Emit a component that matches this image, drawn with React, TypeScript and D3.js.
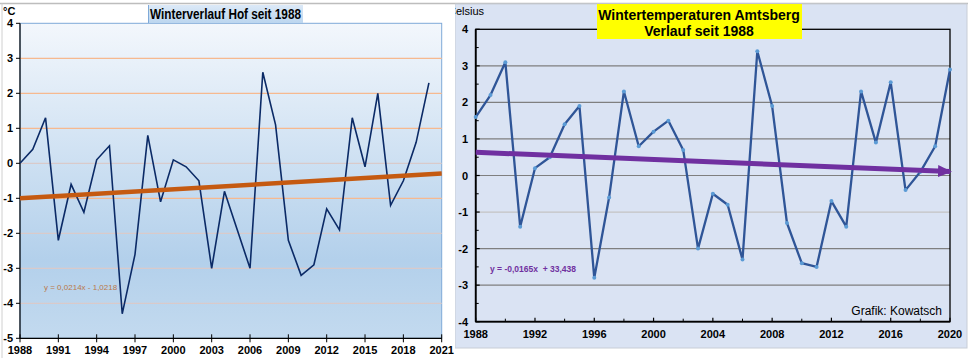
import React from 'react';
import * as d3 from 'd3';

// Winter (DJF) means, 1988 - 2020
const years = [1988, 1989, 1990, 1991, 1992, 1993, 1994, 1995, 1996, 1997, 1998, 1999, 2000, 2001, 2002, 2003, 2004,
  2005, 2006, 2007, 2008, 2009, 2010, 2011, 2012, 2013, 2014, 2015, 2016, 2017, 2018, 2019, 2020];
const hofTemps = [0, 0.4, 1.3, -2.2, -0.6, -1.4, 0.1, 0.5, -4.3, -2.6, 0.8, -1.1, 0.1, -0.1, -0.5, -3.0, -0.8,
  -1.9, -3.0, 2.6, 1.1, -2.2, -3.2, -2.9, -1.3, -1.9, 1.3, -0.1, 2.0, -1.2, -0.5, 0.6, 2.3];
const amtsTemps = [1.6, 2.2, 3.1, -1.4, 0.2, 0.5, 1.4, 1.9, -2.8, -0.6, 2.3, 0.8, 1.2, 1.5, 0.7, -2.0, -0.5,
  -0.8, -2.3, 3.4, 1.9, -1.3, -2.4, -2.5, -0.7, -1.4, 2.3, 0.9, 2.55, -0.4, 0.1, 0.8, 2.9];

const hofXTicks = [1988, 1991, 1994, 1997, 2000, 2003, 2006, 2009, 2012, 2015, 2018, 2021];
const hofYTicks = [4, 3, 2, 1, 0, -1, -2, -3, -4, -5];
const amtsXTicks = [1988, 1992, 1996, 2000, 2004, 2008, 2012, 2016, 2020];
const amtsYTicks = [4, 3, 2, 1, 0, -1, -2, -3, -4];

// trend equations as printed on the charts
const hofTrend = { slope: 0.0214, icpt: -1.0218, label: 'y = 0,0214x - 1,0218' };
const amtsTrend = { slope: -0.0165, icpt: 33.438, label: 'y = -0,0165x  + 33,438' };

const font = 'Arial, "Liberation Sans", sans-serif';

function HofChart() {
  const x = d3.scaleLinear().domain([1988, 2021]).range([20, 441.7]);
  const y = d3.scaleLinear().domain([-5, 4]).range([338.3, 23.3]);
  const line = d3.line<number>().x((d, i) => x(years[i])).y(d => y(d));
  // excel-style trend with x = 1..n
  const t0 = hofTrend.slope * 1 + hofTrend.icpt;
  const t1 = hofTrend.slope * 34 + hofTrend.icpt;
  const orange = [3, 2, 1, -1];

  return (
    <g>
      <defs>
        <linearGradient id="hofBg" x1="0" y1="0" x2="0" y2="1">
          <stop offset="0" stopColor="#F3F7FC" />
          <stop offset="0.75" stopColor="#B3D0EB" />
          <stop offset="1" stopColor="#C3DAEF" />
        </linearGradient>
        <linearGradient id="hofTitle" x1="0" y1="0" x2="0" y2="1">
          <stop offset="0" stopColor="#DCE9F7" />
          <stop offset="1" stopColor="#BCD6EF" />
        </linearGradient>
      </defs>
      <rect x={x(1988)} y={y(4)} width={x(2021) - x(1988)} height={y(-5) - y(4)}
        fill="url(#hofBg)" stroke="#7FA9D8" strokeWidth={1} />
      {hofYTicks.filter(v => v !== 4 && v !== -5).map(v => (
        <line key={v} x1={x(1988)} x2={x(2021)} y1={y(v)} y2={y(v)}
          stroke={orange.includes(v) ? '#F6B98F' : '#D9CACA'} strokeWidth={1.2} />
      ))}
      <line x1={x(1988)} x2={x(1988)} y1={y(4)} y2={y(-5)} stroke="#000" strokeWidth={1.2} />
      <line x1={x(1988)} x2={x(2021)} y1={y(-5)} y2={y(-5)} stroke="#000" strokeWidth={1.2} />
      {hofYTicks.map(v => (
        <g key={v}>
          <line x1={x(1988) - 4} x2={x(1988)} y1={y(v)} y2={y(v)} stroke="#000" />
          <text x={13} y={y(v) + 4} textAnchor="end" fontSize={11} fontWeight="bold" fontFamily={font}>{v}</text>
        </g>
      ))}
      {hofXTicks.map(v => (
        <g key={v}>
          <line x1={x(v)} x2={x(v)} y1={y(-5) - 4} y2={y(-5) + 4} stroke="#000" />
          <text x={x(v)} y={354} textAnchor="middle" fontSize={11} fontWeight="bold" fontFamily={font}>{v}</text>
        </g>
      ))}
      <path d={line(hofTemps) || ''} fill="none" stroke="#0B2A66" strokeWidth={1.6} strokeLinejoin="miter" />
      <line x1={x(1988)} x2={x(2021)} y1={y(t0)} y2={y(t1)} stroke="#C55A11" strokeWidth={4.5} />
      <text x={44} y={290} fontSize={8} fill="#B9794A" fontFamily={font}>{hofTrend.label}</text>
      <text x={3} y={15} fontSize={11} fontWeight="bold" fontFamily={font}>°C</text>
      <rect x={148} y={5} width={155} height={18} fill="url(#hofTitle)" />
      <line x1={148.5} x2={148.5} y1={5} y2={23} stroke="#7FA9D8" />
      <text x={150} y={19} fontSize={14} fontWeight="bold" fontFamily={font}
        textLength={151} lengthAdjust="spacingAndGlyphs">Winterverlauf Hof seit 1988</text>
    </g>
  );
}

function AmtsChart() {
  const x = d3.scaleLinear().domain([1988, 2020]).range([475.7, 950]);
  const y = d3.scaleLinear().domain([-4, 4]).range([321.7, 29.3]);
  const line = d3.line<number>().x((d, i) => x(years[i])).y(d => y(d));
  const minorX = d3.range(1990, 2020, 4);
  const minorY = d3.range(-3.5, 4, 1);
  const t0 = amtsTrend.slope * 1988 + amtsTrend.icpt;
  const t1 = amtsTrend.slope * 2020 + amtsTrend.icpt;

  return (
    <g clipPath="url(#rightClip)">
      <defs>
        <clipPath id="rightClip"><rect x={455} y={0} width={513} height={361} /></clipPath>
        <marker id="arrow" markerUnits="userSpaceOnUse" markerWidth={14} markerHeight={12}
          refX={12} refY={6} orient="auto" viewBox="0 0 14 12">
          <path d="M0,0 L14,6 L0,12 Z" fill="#7030A0" />
        </marker>
      </defs>
      <rect x={455} y={4} width={512} height={344} fill="#DAE3F3" stroke="#C8CDD6" />
      <text x={448} y={15} fontSize={11} fontFamily={font}>Celsius</text>
      {amtsYTicks.filter(v => v !== 4 && v !== -4).map(v => (
        <line key={v} x1={x(1988)} x2={x(2020)} y1={y(v)} y2={y(v)}
          stroke={v === -1 ? '#C3C3C3' : '#7F7F7F'} strokeWidth={1.2} />
      ))}
      <rect x={x(1988)} y={y(4)} width={x(2020) - x(1988)} height={y(-4) - y(4)}
        fill="none" stroke="#000" strokeWidth={1.3} />
      <line x1={x(1988)} x2={x(2020)} y1={y(-4)} y2={y(-4)} stroke="#000" strokeWidth={1.8} />
      <line x1={x(1988)} x2={x(1988)} y1={y(4)} y2={y(-4)} stroke="#000" strokeWidth={1.8} />
      {amtsYTicks.map(v => (
        <g key={v}>
          <line x1={x(1988)} x2={x(1988) + 4} y1={y(v)} y2={y(v)} stroke="#000" strokeWidth={1.2} />
          <text x={468} y={y(v) + 4} textAnchor="end" fontSize={11} fontWeight="bold" fontFamily={font}>{v}</text>
        </g>
      ))}
      {minorY.map(v => (
        <line key={v} x1={x(1988)} x2={x(1988) + 3} y1={y(v)} y2={y(v)} stroke="#000" />
      ))}
      {amtsXTicks.map(v => (
        <g key={v}>
          <line x1={x(v)} x2={x(v)} y1={y(-4)} y2={y(-4) - 4} stroke="#000" strokeWidth={1.2} />
          <text x={x(v)} y={338} textAnchor="middle" fontSize={11} fontWeight="bold" fontFamily={font}>{v}</text>
        </g>
      ))}
      {minorX.map(v => (
        <line key={v} x1={x(v)} x2={x(v)} y1={y(-4)} y2={y(-4) - 3} stroke="#000" />
      ))}
      <path d={line(amtsTemps) || ''} fill="none" stroke="#2F5597" strokeWidth={2.3} strokeLinejoin="round" />
      {amtsTemps.map((d, i) => (
        <circle key={i} cx={x(years[i])} cy={y(d)} r={2} fill="#5B9BD5" />
      ))}
      <line x1={x(1988)} x2={x(2020)} y1={y(t0)} y2={y(t1)} stroke="#7030A0" strokeWidth={5}
        markerEnd="url(#arrow)" />
      <text x={490} y={272} fontSize={8.5} fontWeight="bold" fill="#7030A0" fontFamily={font}
        style={{ whiteSpace: 'pre' }}>{amtsTrend.label}</text>
      <text x={942} y={315} textAnchor="end" fontSize={12} fontFamily={font}>Grafik: Kowatsch</text>
      <rect x={597} y={4} width={205} height={35} fill="#FFFF00" />
      <text x={699} y={20} textAnchor="middle" fontSize={14} fontWeight="bold" fontFamily={font}>Wintertemperaturen Amtsberg</text>
      <text x={699} y={36} textAnchor="middle" fontSize={14} fontWeight="bold" fontFamily={font}>Verlauf seit 1988</text>
    </g>
  );
}

export default function App() {
  return (
    <svg width={968} height={361} style={{ position: 'absolute', left: 0, top: 0, background: '#fff' }}>
      <line x1={0} x2={968} y1={3.5} y2={3.5} stroke="#BDBDBD" strokeWidth={1.5} />
      <line x1={2} x2={2} y1={3.5} y2={358} stroke="#D0D0D0" strokeWidth={1} />
      <HofChart />
      <AmtsChart />
    </svg>
  );
}
